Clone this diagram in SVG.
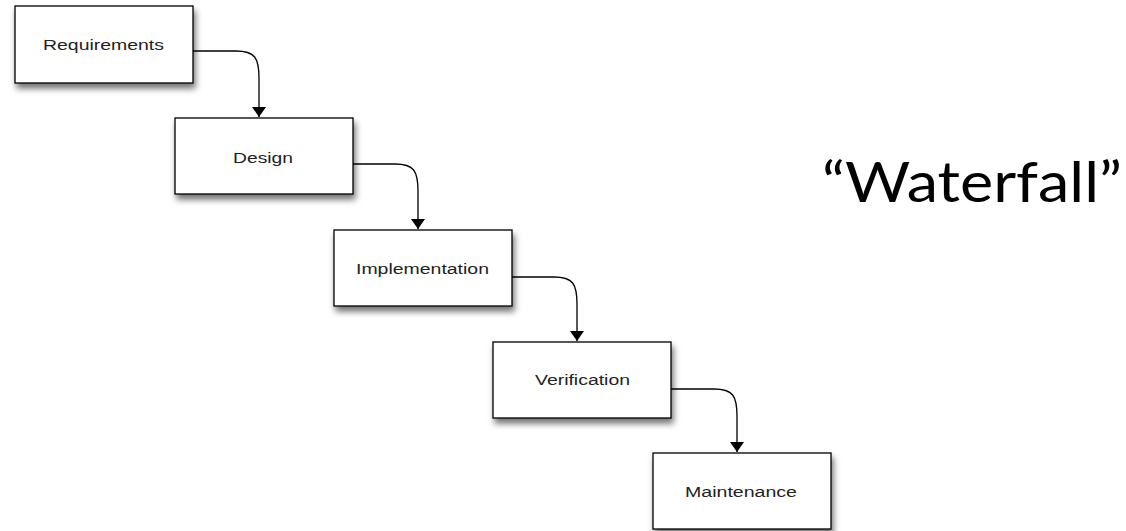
<svg xmlns="http://www.w3.org/2000/svg" width="1126" height="531" viewBox="0 0 1126 531">
<style>
.box{fill:#fff;stroke:#000;stroke-width:1.3}
.lbl{font-family:"Liberation Sans",Arial,sans-serif;font-size:15.5px;fill:#222}
.con{fill:none;stroke:#000;stroke-width:1.3}
</style>
<defs>
<filter id="sh" x="-20%" y="-20%" width="150%" height="160%">
<feDropShadow dx="2" dy="5" stdDeviation="3" flood-color="#000" flood-opacity="0.55"/>
</filter>
<marker id="ah" viewBox="0 0 10 14" refX="10" refY="7" markerWidth="10" markerHeight="14" markerUnits="userSpaceOnUse" orient="auto">
<path d="M0,0 L10,7 L0,14 Z" fill="#000"/>
</marker>
</defs>
<rect width="1126" height="531" fill="#fff"/>
<g id="connectors">
<path class="con" marker-end="url(#ah)" d="M193,51 L236,51 C255,51 259,58 259,78 L259,117"/>
<path class="con" marker-end="url(#ah)" d="M353,164 L395,164 C414,164 418,171 418,191 L418,229"/>
<path class="con" marker-end="url(#ah)" d="M512,277 L554,277 C573,277 577,284 577,304 L577,341"/>
<path class="con" marker-end="url(#ah)" d="M671,389 L714,389 C733,389 737,396 737,416 L737,452"/>
</g>
<g id="requirements"><rect class="box" filter="url(#sh)" x="15" y="6" width="178" height="77"/><text class="lbl" x="43" y="50" textLength="121" lengthAdjust="spacingAndGlyphs">Requirements</text></g>
<g id="design"><rect class="box" filter="url(#sh)" x="175" y="118" width="178" height="76"/><text class="lbl" x="233" y="162.5" textLength="60" lengthAdjust="spacingAndGlyphs">Design</text></g>
<g id="implementation"><rect class="box" filter="url(#sh)" x="334" y="230" width="178" height="76"/><text class="lbl" x="356" y="274" textLength="133" lengthAdjust="spacingAndGlyphs">Implementation</text></g>
<g id="verification"><rect class="box" filter="url(#sh)" x="493" y="342" width="178" height="76"/><text class="lbl" x="535" y="385" textLength="95" lengthAdjust="spacingAndGlyphs">Verification</text></g>
<g id="maintenance"><rect class="box" filter="url(#sh)" x="653" y="453" width="178" height="76"/><text class="lbl" x="685" y="496.5" textLength="112" lengthAdjust="spacingAndGlyphs">Maintenance</text></g>
<g id="title"><text x="822" y="202" font-family="Lato,'Open Sans',sans-serif" font-size="56" fill="#000" textLength="300" lengthAdjust="spacingAndGlyphs">“Waterfall”</text></g>
</svg>
